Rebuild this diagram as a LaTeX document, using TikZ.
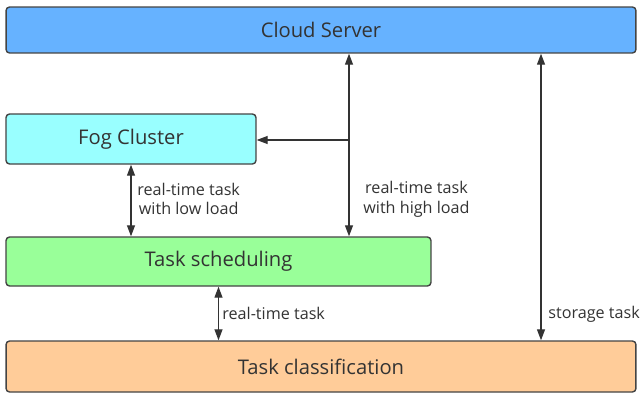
\documentclass[tikz,border=0pt]{standalone}
\usepackage{fontspec}
\setmainfont{Open Sans}
\usepackage{tikz}
\usetikzlibrary{arrows.meta, positioning, calc}
\usepackage{xcolor}
\definecolor{cloudblue}{HTML}{66B2FF}
\definecolor{fogcyan}{HTML}{99FFFF}
\definecolor{schedgreen}{HTML}{99FF99}
\definecolor{classorange}{HTML}{FFCC99}
\definecolor{edgegray}{HTML}{444444}
\definecolor{inkgray}{HTML}{333333}

\begin{document}
\begin{tikzpicture}[
        x=0.02cm, y=-0.02cm,
        layer/.style={rectangle, draw=edgegray, line width=0.8pt, rounded corners=2pt, inner sep=0pt, text=inkgray, font=\fontsize{11.5}{13}\selectfont},
        arr/.style={-{Triangle[length=2.2mm, width=1.6mm]}, line width=0.7pt, draw=inkgray},
        biarr/.style={{Triangle[length=2.2mm, width=1.6mm]}-{Triangle[length=2.2mm, width=1.6mm]}, line width=0.7pt, draw=inkgray},
        lbl/.style={font=\fontsize{9.2}{11.3}\selectfont, text=inkgray, align=center, inner sep=0pt},
    ]
        \useasboundingbox (0,0) rectangle (641,396);

        % Cloud server
        \node[layer, fill=cloudblue, minimum width=12.6cm, minimum height=0.92cm] (cloud) at (321, 30) {Cloud Server};

        % Fog cluster
        \node[layer, fill=fogcyan, minimum width=5cm, minimum height=1cm] (fog) at (131, 139) {Fog Cluster};

        % Task scheduling
        \node[layer, fill=schedgreen, minimum width=8.5cm, minimum height=0.98cm] (sched) at (218.5, 261.5) {Task scheduling};

        % Task classification
        \node[layer, fill=classorange, minimum width=12.6cm, minimum height=1.02cm] (class) at (321, 366.5) {Task classification};

        % Branch points
        \coordinate (branch) at (349, 140);
        \coordinate (store) at (541, 200);

        % Arrows
        \draw[biarr] (cloud.south -| branch) -- (sched.north -| branch);
        \draw[arr] (branch) -- (fog.east |- branch);
        \draw[biarr] (fog.south) -- (sched.north -| fog);
        \draw[biarr] (sched.south) -- (class.north -| sched);
        \draw[biarr] (cloud.south -| store) -- (class.north -| store);

        % Labels
        \node[lbl, anchor=west] (lowlbl) at (137, 199) {real-time task\\with low load};
        \node[lbl, anchor=west] (highlbl) at (363, 199) {real-time task\\with high load};
        \node[lbl, anchor=west] (rtlbl) at (222, 313) {real-time task};
        \node[lbl, anchor=west] (storelbl) at (548, 314) {storage task};
    \end{tikzpicture}
\end{document}
